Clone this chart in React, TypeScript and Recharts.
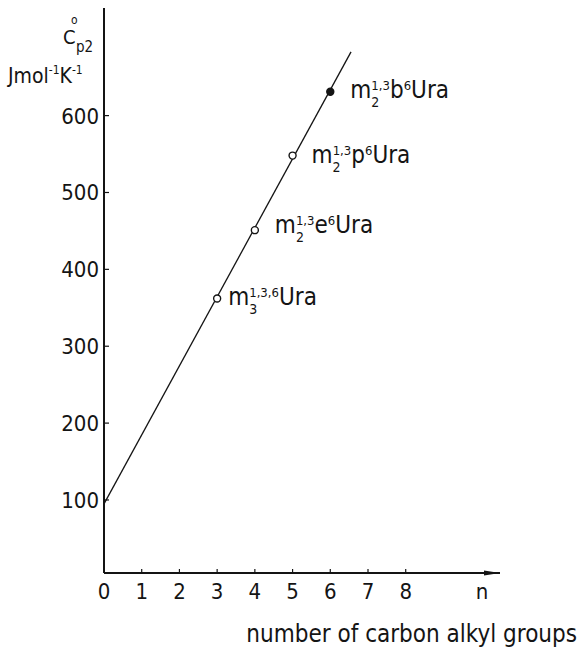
import React from "react";
import { ComposedChart, Line, Scatter, XAxis, YAxis } from "recharts";

const FONT = '"DejaVu Sans Condensed", "DejaVu Sans", sans-serif';
const INK = "#141414";

// measured compounds: number of alkyl carbons vs heat capacity
const pointN = [3, 4, 5, 6];
const pointCp = [362, 451, 548, 631];
const pointSub = ["3", "2", "2", "2"];
const pointSup = ["1,3,6", "1,3", "1,3", "1,3"];
const pointGroup = ["", "e", "p", "b"];
const pointFilled = [false, false, false, true];

// fitted straight line, ends
const fitN = [0, 6.55];
const fitCp = [95, 683];

const xTicks = [0, 1, 2, 3, 4, 5, 6, 7, 8];
const yTicks = [100, 200, 300, 400, 500, 600];

const points = pointN.map((n, i) => ({
  n,
  cp: pointCp[i],
  sub: pointSub[i],
  sup: pointSup[i],
  group: pointGroup[i],
  filled: pointFilled[i],
}));

const fitLine = fitN.map((n, i) => ({ n, cp: fitCp[i] }));

// label offsets from the marker
const labelDx = [11, 20, 19, 20];
const labelDy = [6, 3, 7, 6];

function XTick({ x, y, payload }: any) {
  return (
    <g>
      <line x1={x} x2={x} y1={y} y2={y - 4} stroke={INK} strokeWidth={1.2} />
      <text
        x={x}
        y={y + 26}
        textAnchor="middle"
        fontFamily={FONT}
        fontSize={22}
        fill={INK}
      >
        {payload.value}
      </text>
    </g>
  );
}

function YTick({ x, y, payload }: any) {
  return (
    <g>
      <line x1={x} x2={x + 5} y1={y} y2={y} stroke={INK} strokeWidth={1.2} />
      <text
        x={x - 5}
        y={y + 8}
        textAnchor="end"
        fontFamily={FONT}
        fontSize={22}
        fill={INK}
      >
        {payload.value}
      </text>
    </g>
  );
}

function XLabel({ viewBox }: any) {
  const x0 = viewBox ? viewBox.x : 104;
  const w = viewBox ? viewBox.width : 396;
  const y0 = viewBox ? viewBox.y : 573;
  const xEnd = x0 + w;
  return (
    <g>
      <path
        d={`M ${xEnd - 16} ${y0 - 2.5} L ${xEnd} ${y0} L ${xEnd - 16} ${y0 + 2.5} Z`}
        fill={INK}
      />
      <text x={xEnd - 18} y={y0 + 26} textAnchor="middle" fontFamily={FONT} fontSize={22} fill={INK}>
        n
      </text>
      <text x={577} y={y0 + 69} textAnchor="end" fontFamily={FONT} fontSize={24} fill={INK}>
        number of carbon alkyl groups
      </text>
    </g>
  );
}

function YLabel({ viewBox }: any) {
  const ax = viewBox ? viewBox.x + viewBox.width : 104;
  const top = viewBox ? viewBox.y : 8;
  return (
    <g fontFamily={FONT} fill={INK}>
      <text x={ax - 41} y={top + 36} fontSize={20}>
        C
      </text>
      <text x={ax - 33} y={top + 16} fontSize={12}>
        o
      </text>
      <text x={ax - 28} y={top + 44} fontSize={15}>
        p2
      </text>
      <text x={ax - 96} y={top + 75} fontSize={21}>
        <tspan>Jmol</tspan>
        <tspan fontSize={12} dy={-9}>-1</tspan>
        <tspan fontSize={21} dy={9}>K</tspan>
        <tspan fontSize={12} dy={-9}>-1</tspan>
      </text>
    </g>
  );
}

function PointShape(props: any) {
  const { cx, cy, payload, index } = props;
  const i = typeof index === "number" ? index : pointN.indexOf(payload.n);
  const lx = cx + labelDx[i];
  const ly = cy + labelDy[i];
  return (
    <g>
      <circle
        cx={cx}
        cy={cy}
        r={3.5}
        fill={payload.filled ? INK : "#fff"}
        stroke={INK}
        strokeWidth={1.4}
      />
      <text x={lx} y={ly} fontFamily={FONT} fontSize={24} fill={INK}>
        <tspan>m</tspan>
        <tspan fontSize={14} dy={9}>{payload.sub}</tspan>
        <tspan fontSize={13} dx={-8} dy={-17}>{payload.sup}</tspan>
        {payload.group ? (
          <>
            <tspan fontSize={24} dy={8}>{payload.group}</tspan>
            <tspan fontSize={13} dy={-8}>6</tspan>
          </>
        ) : null}
        <tspan fontSize={24} dy={8}>Ura</tspan>
      </text>
    </g>
  );
}

export default function App() {
  return (
    <div style={{ position: "absolute", left: 0, top: 0, background: "#fff" }}>
      <ComposedChart
        width={581}
        height={650}
        margin={{ top: 8, right: 81, bottom: 47, left: 44 }}
      >
        <XAxis
          type="number"
          dataKey="n"
          domain={[0, 10.5]}
          ticks={xTicks}
          tick={XTick}
          tickLine={false}
          tickSize={0}
          tickMargin={0}
          height={30}
          axisLine={{ stroke: INK, strokeWidth: 2 }}
          allowDataOverflow
          label={{ content: XLabel }}
        />
        <YAxis
          type="number"
          dataKey="cp"
          domain={[5, 740]}
          ticks={yTicks}
          tick={YTick}
          tickLine={false}
          tickSize={0}
          tickMargin={0}
          width={60}
          axisLine={{ stroke: INK, strokeWidth: 2 }}
          allowDataOverflow
          label={{ content: YLabel }}
        />
        <Line
          data={fitLine}
          dataKey="cp"
          type="linear"
          stroke={INK}
          strokeWidth={1.3}
          dot={false}
          activeDot={false}
          isAnimationActive={false}
        />
        <Scatter
          data={points}
          dataKey="cp"
          shape={PointShape}
          isAnimationActive={false}
        />
      </ComposedChart>
    </div>
  );
}
